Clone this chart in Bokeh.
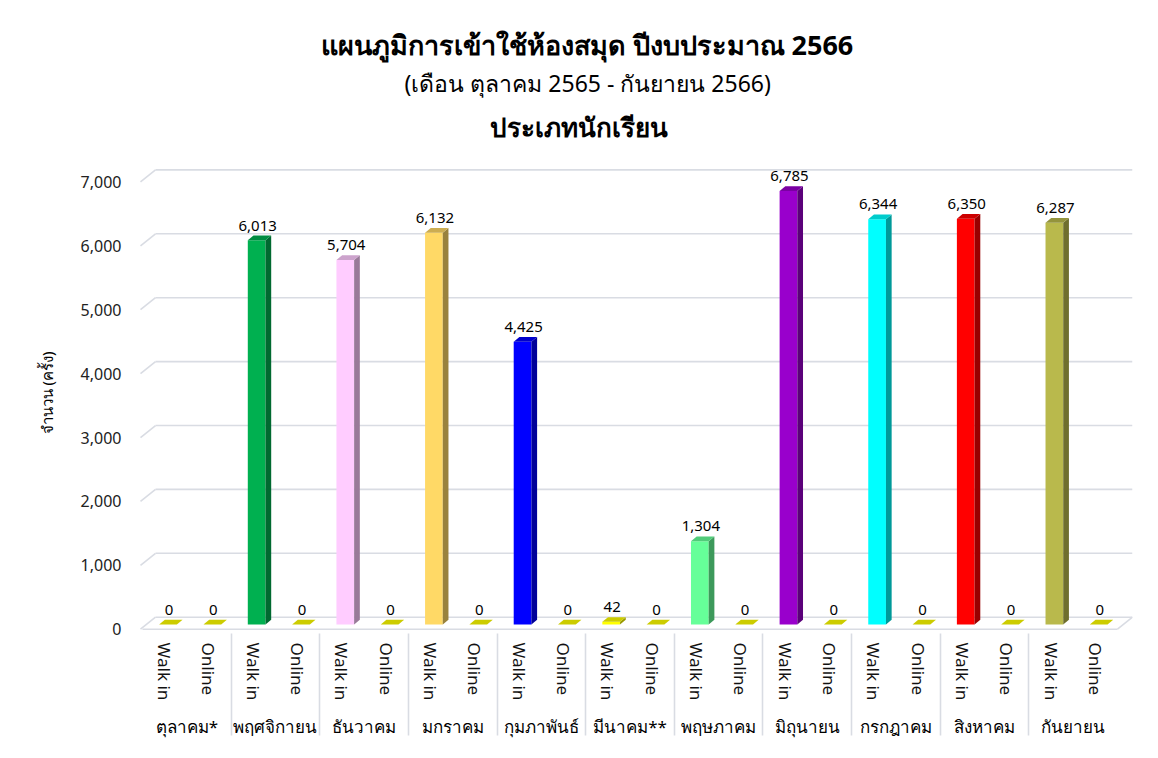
import numpy as np
from bokeh.plotting import figure
from bokeh.models import (FactorRange, Range1d, ColumnDataSource, Title,
                          FixedTicker, NumeralTickFormatter)
from bokeh.embed import file_html
from bokeh.resources import INLINE
from bokeh.core.properties import value

# ---------------- data ----------------
months = ["ตุลาคม*", "พฤศจิกายน", "ธันวาคม", "มกราคม", "กุมภาพันธ์", "มีนาคม**",
          "พฤษภาคม", "มิถุนายน", "กรกฎาคม", "สิงหาคม", "กันยายน"]
channels = ["Walk in", "Online"]
walk_in = [0, 6013, 5704, 6132, 4425, 42, 1304, 6785, 6344, 6350, 6287]
online = [0, 0, 0, 0, 0, 0, 0, 0, 0, 0, 0]
walk_colors = ["#FFFF00", "#00B050", "#FFCCFF", "#FFD966", "#0000FF", "#FFFF00",
               "#66FF99", "#9900CC", "#00FFFF", "#FF0000", "#B9B94C"]
online_color = "#FFFF00"
y_ticks = [0, 1000, 2000, 3000, 4000, 5000, 6000, 7000]

title_main = "แผนภูมิการเข้าใช้ห้องสมุด ปีงบประมาณ 2566"
title_sub = "(เดือน ตุลาคม 2565 - กันยายน 2566)"
title_type = "ประเภทนักเรียน"
y_label = "จำนวน (ครั้ง)"

# ---------------- layout constants ----------------
FONT = "Noto Sans"
FIG_W, FIG_H = 1150, 750
B_LEFT, B_RIGHT, B_TOP, B_BOTTOM = 127, 18, 155, 120
FRAME_W = FIG_W - B_LEFT - B_RIGHT
FRAME_H = FIG_H - B_TOP - B_BOTTOM
PAD_PX = 15
N = len(months) * len(channels)
SX = (FRAME_W - 2 * PAD_PX) / N          # px per slot
SY = 0.0639                              # px per count
Y0 = -20.0
Y1 = Y0 + FRAME_H / SY


def ux(px):
    return px / SX


def uy(px):
    return px / SY


def shade(hex_color, f):
    h = hex_color.lstrip("#")
    r, g, b = (int(h[i:i + 2], 16) for i in (0, 2, 4))
    return "#%02x%02x%02x" % (int(r * f), int(g * f), int(b * f))


factors = [(m, ch) for m in months for ch in channels]
values = [v for pair in zip(walk_in, online) for v in pair]
colors = [c for pair in zip(walk_colors, [online_color] * len(months)) for c in pair]
centers = np.arange(N) + 0.5

x_range = FactorRange(*factors, factor_padding=0, subgroup_padding=0, group_padding=0,
                      range_padding=2 * (PAD_PX / SX) / N, range_padding_units="percent")

p = figure(width=FIG_W, height=FIG_H, x_range=x_range, y_range=Range1d(Y0, Y1),
           output_backend="svg", toolbar_location=None, title_location=None,
           min_border_left=B_LEFT, min_border_right=B_RIGHT,
           min_border_top=B_TOP, min_border_bottom=B_BOTTOM,
           background_fill_color="white", border_fill_color="white")
p.outline_line_color = None
p.grid.visible = False

# ---------------- titles ----------------
p.add_layout(Title(text=title_type, align="left", offset=362, text_font=FONT,
                   text_font_size="26px", text_font_style="bold", text_color="black",
                   standoff=22), "above")
p.add_layout(Title(text=title_sub, align="left", offset=277, text_font=FONT,
                   text_font_size="23px", text_font_style="normal", text_color="black",
                   standoff=-6), "above")
p.add_layout(Title(text=title_main, align="left", offset=193, text_font=FONT,
                   text_font_size="27px", text_font_style="bold", text_color="black",
                   standoff=10), "above")

# ---------------- 3D walls / grid ----------------
WALL_DX, WALL_DY = 14.0, 12.0
GRID = "#D9DCE3"
gx0, gy0, gx1, gy1 = [], [], [], []
for t in y_ticks:
    gx0.append(ux(-2)); gy0.append(t); gx1.append(ux(WALL_DX - 1)); gy1.append(t + uy(WALL_DY))
    gx0.append(ux(WALL_DX - 1)); gy0.append(t + uy(WALL_DY)); gx1.append(N + ux(WALL_DX + 1)); gy1.append(t + uy(WALL_DY))
# floor front & right edges
gx0 += [0, N]; gy0 += [0, 0]; gx1 += [N, N + ux(WALL_DX + 1)]; gy1 += [0, uy(WALL_DY)]
p.segment(x0=gx0, y0=gy0, x1=gx1, y1=gy1, line_color=GRID, line_width=1.6)

# ---------------- 3D bars ----------------
FL, FR = -5.5, 12.2       # front face edges relative to slot center (px)
DX, DY = 5.7, 4.7         # bar depth (px)
BASE = 4.7                # front face raised above floor front (px)

front = dict(left=[], right=[], bottom=[], top=[], color=[])
top_xs, top_ys, top_c = [], [], []
side_xs, side_ys, side_c = [], [], []
lab_x, lab_y, lab_t = [], [], []
for c, v, col in zip(centers, values, colors):
    l, r = c + ux(FL), c + ux(FR)
    b = uy(BASE)
    t = v + uy(BASE)
    dx, dy = ux(DX), uy(DY)
    front["left"].append(l); front["right"].append(r)
    front["bottom"].append(b); front["top"].append(t); front["color"].append(col)
    top_xs.append([l, r, r + dx, l + dx]); top_ys.append([t, t, t + dy, t + dy])
    top_c.append(shade(col, 0.8))
    side_xs.append([r, r + dx, r + dx, r]); side_ys.append([b, b + dy, t + dy, t])
    side_c.append(shade(col, 0.6))
    lab_x.append(c + ux((FL + FR) / 2 + 1))
    lab_y.append(t + dy + uy(10))
    lab_t.append(f"{v:,}")

p.quad(source=ColumnDataSource(front), left="left", right="right", bottom="bottom",
       top="top", fill_color="color", line_color=None)
p.patches(xs=side_xs, ys=side_ys, fill_color=side_c, line_color=None)
p.patches(xs=top_xs, ys=top_ys, fill_color=top_c, line_color=None)
p.text(x=lab_x, y=lab_y, text=lab_t, text_align="center", text_baseline="alphabetic",
       text_font=value(FONT), text_font_size="15px", text_color="black")

# ---------------- axes ----------------
ya = p.yaxis[0]
ya.ticker = FixedTicker(ticks=y_ticks)
ya.formatter = NumeralTickFormatter(format="0,0")
ya.axis_line_color = None
ya.major_tick_line_color = None
ya.minor_tick_line_color = None
ya.major_tick_out = 0
ya.major_tick_in = 0
ya.minor_tick_out = 0
ya.major_label_text_font = FONT
ya.major_label_text_font_size = "16px"
ya.major_label_text_color = "#222222"
ya.major_label_standoff = 6
ya.axis_label = y_label
ya.axis_label_text_font = FONT
ya.axis_label_text_font_size = "15px"
ya.axis_label_text_font_style = "normal"
ya.axis_label_text_color = "black"
ya.axis_label_standoff = 21

xa = p.xaxis[0]
xa.axis_label = None
xa.axis_line_color = None
xa.major_tick_line_color = None
xa.minor_tick_line_color = None
xa.major_tick_out = 0
xa.major_tick_in = 0
xa.minor_tick_out = 0
xa.major_label_orientation = "vertical"
xa.major_label_standoff = 12
xa.major_label_text_font = FONT
xa.major_label_text_font_size = "17px"
xa.major_label_text_color = "#111111"
xa.group_label_orientation = "horizontal"
xa.group_text_font = FONT
xa.group_text_font_size = "17px"
xa.group_text_font_style = "normal"
xa.group_text_color = "black"
xa.separator_line_color = GRID
xa.separator_line_width = 1.6

open("out.html", "w").write(file_html(p, INLINE))
